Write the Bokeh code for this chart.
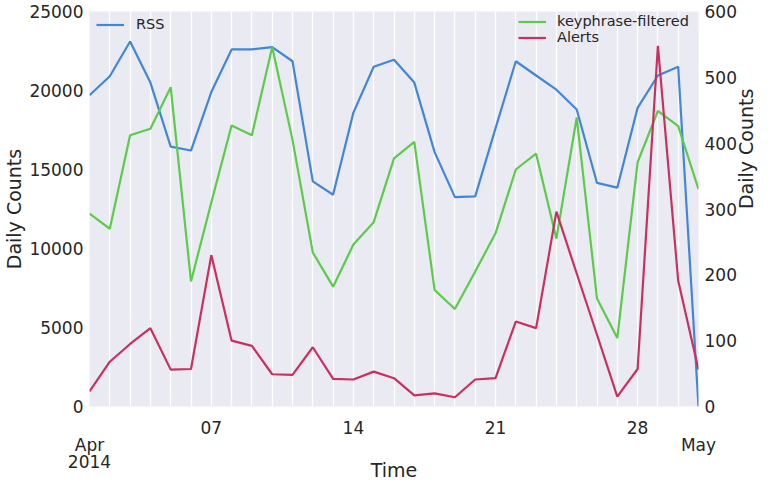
import math
import pandas as pd
from bokeh.plotting import figure
from bokeh.models import Range1d, LinearAxis, FixedTicker, Legend, LegendItem
from bokeh.embed import file_html
from bokeh.resources import INLINE

# ---- data ----
dates = [f"2014-04-{d:02d}" for d in range(1, 31)] + ["2014-05-01"]
rss = [19700, 20900, 23100, 20500, 16450, 16200, 19900, 22600, 22600, 22750,
       21850, 14250, 13400, 18600, 21500, 21950, 20500, 16100, 13250, 13300,
       17600, 21850, 20950, 20050, 18800, 14150, 13850, 18900, 20950, 21500, 0]
keyphrase = [293, 270, 412, 422, 485, 190, 310, 427, 412, 546,
             405, 234, 182, 246, 280, 377, 402, 177, 148, 205,
             263, 360, 384, 255, 439, 164, 104, 371, 449, 426, 330]
alerts = [23, 68, 95, 119, 56, 57, 230, 100, 92, 49,
          48, 90, 42, 41, 53, 43, 17, 20, 14, 41,
          43, 129, 119, 296, 202, 109, 15, 57, 548, 191, 56]
left_ticks = [0, 5000, 10000, 15000, 20000, 25000]
right_ticks = [0, 100, 200, 300, 400, 500, 600]
x_tick_dates = ["2014-04-01", "2014-04-07", "2014-04-14", "2014-04-21", "2014-04-28", "2014-05-01"]
x_tick_labels = ["\nApr\n2014", "07", "14", "21", "28", "\nMay"]

BLUE = "#4286D8"
GREEN = "#5CCB4A"
RED = "#C9305F"
TXT = "#262626"
FONT = "DejaVu Sans"


def ms(s):
    return pd.Timestamp(s).value // 10**6


x = pd.to_datetime(dates)

p = figure(width=770, height=484, x_axis_type="datetime",
           output_backend="svg", toolbar_location=None,
           x_range=Range1d(ms(dates[0]), ms(dates[-1])),
           y_range=Range1d(0, 25000),
           min_border_left=89, min_border_right=70,
           min_border_top=11, min_border_bottom=77)
p.extra_y_ranges = {"right": Range1d(0, 600)}

p.background_fill_color = "#EAEAF2"
p.border_fill_color = "white"
p.outline_line_color = None

p.xgrid.ticker = FixedTicker(ticks=[ms(d) for d in dates])
p.xgrid.grid_line_color = "white"
p.xgrid.grid_line_width = 1.3
p.ygrid.grid_line_color = None

ax_r = LinearAxis(y_range_name="right", ticker=FixedTicker(ticks=right_ticks),
                  axis_label="Daily Counts")
p.add_layout(ax_r, "right")

p.yaxis[0].ticker = FixedTicker(ticks=left_ticks)
p.yaxis[0].axis_label = "Daily Counts"
p.xaxis.ticker = FixedTicker(ticks=[ms(d) for d in x_tick_dates])
p.xaxis.major_label_overrides = {ms(d): lab for d, lab in zip(x_tick_dates, x_tick_labels)}
p.xaxis.axis_label = "Time"

for ax in [p.xaxis[0], p.yaxis[0], ax_r]:
    ax.axis_line_color = None
    ax.major_tick_line_color = None
    ax.minor_tick_line_color = None
    ax.major_tick_out = 0
    ax.major_tick_in = 0
    ax.major_label_text_font = FONT
    ax.major_label_text_font_size = "17px"
    ax.major_label_text_color = TXT
    ax.axis_label_text_font = FONT
    ax.axis_label_text_font_size = "19px"
    ax.axis_label_text_font_style = "normal"
    ax.axis_label_text_color = TXT

p.yaxis[0].major_label_standoff = 6
p.yaxis[0].axis_label_standoff = 1
ax_r.major_label_standoff = 6
ax_r.axis_label_standoff = 6
if hasattr(ax_r, "axis_label_orientation"):
    ax_r.axis_label_orientation = math.pi / 2
p.xaxis.major_label_standoff = 11
p.xaxis.major_label_text_line_height = 0.87
p.xaxis.axis_label_standoff = -16

r1 = p.line(x, rss, line_color=BLUE, line_width=2.2)
r2 = p.line(x, keyphrase, line_color=GREEN, line_width=2.2, y_range_name="right")
r3 = p.line(x, alerts, line_color=RED, line_width=2.2, y_range_name="right")


def style_legend(leg, standoff):
    leg.label_text_font = FONT
    leg.label_text_font_size = "14.5px"
    leg.label_text_color = TXT
    leg.glyph_width = 28
    leg.glyph_height = 15
    leg.label_height = 15
    leg.label_standoff = standoff
    leg.spacing = 0
    leg.padding = 0
    leg.margin = 0
    leg.background_fill_alpha = 0
    leg.border_line_alpha = 0


leg1 = Legend(items=[LegendItem(label="RSS", renderers=[r1])], location=(7, 374))
style_legend(leg1, 12)
leg2 = Legend(items=[LegendItem(label="keyphrase-filtered", renderers=[r2]),
                     LegendItem(label="Alerts", renderers=[r3])], location=(429, 361))
style_legend(leg2, 11)
p.add_layout(leg1)
p.add_layout(leg2)

open("out.html", "w").write(file_html(p, INLINE))
